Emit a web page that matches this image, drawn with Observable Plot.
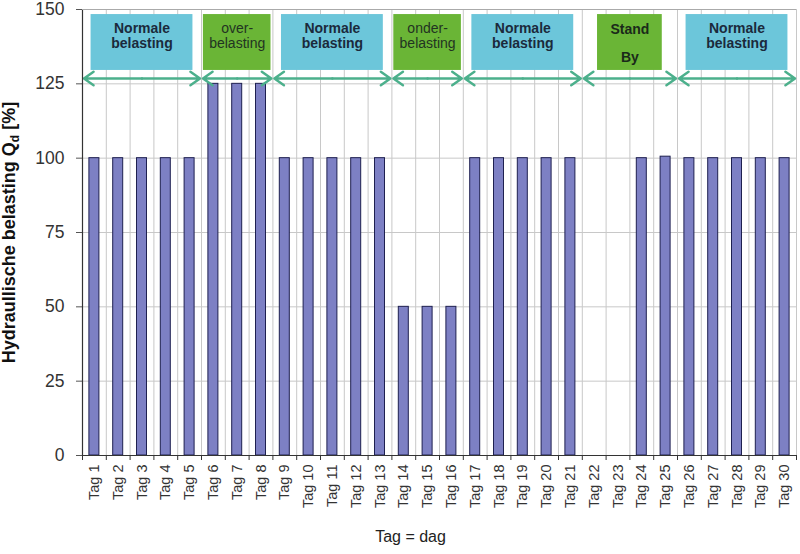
<!DOCTYPE html>
<html><head><meta charset="utf-8">
<script src="https://cdn.jsdelivr.net/npm/d3@7"></script>
<script src="https://cdn.jsdelivr.net/npm/@observablehq/plot@0.6"></script>
<style>body{margin:0;background:#fff;font-family:"Liberation Sans",Arial,sans-serif;}</style>
</head><body><div id="chart"></div>
<script>
// ---- data ----
const days = d3.range(1, 31);
const tickLabels = days.map(d => "Tag " + d);
const values = [100,100,100,100,100,125,125,125,100,100,100,100,100,50,50,50,100,100,100,100,100,null,null,100,100.5,100,100,100,100,100];
const yTicks = [0,25,50,75,100,125,150];
const segmentStart = [1,6,9,14,17,22,26];
const segmentEnd   = [5,8,13,16,21,25,30];
const segmentLabel = ["Normale\nbelasting","over-\nbelasting","Normale\nbelasting","onder-\nbelasting","Normale\nbelasting","Stand\nBy","Normale\nbelasting"];
const segmentKind  = ["normal","over","normal","under","normal","standby","normal"];
const yLabel = "Hydraullische belasting Qd [%]";
const xLabel = "Tag = dag";

// ---- derived tables ----
const bars = days.map((d, i) => ({day: d, value: values[i]})).filter(d => d.value != null);
const segs = segmentStart.map((s, i) => ({start: s, end: segmentEnd[i], label: segmentLabel[i], kind: segmentKind[i], mid: (s + segmentEnd[i]) / 2}));
const boundaries = d3.range(0.5, 31, 1);

const boxHalf = k => k === "normal" ? 2.14 : (k === "standby" ? 1.36 : 1.42);
const boxFill = k => k === "normal" ? "#6cc6da" : "#6ab536";
const font = '"Liberation Sans", Arial, sans-serif';

const plot = Plot.plot({
  width: 800, height: 554,
  marginLeft: 82, marginRight: 4, marginTop: 9, marginBottom: 99,
  style: {fontFamily: font, background: "#fff", overflow: "visible"},
  x: {type: "linear", domain: [0.5, 30.5]},
  y: {domain: [0, 150]},
  marks: [
    Plot.ruleY(yTicks.slice(1), {stroke: "#c8c8c8", strokeWidth: 1}),
    Plot.ruleX(boundaries, {stroke: "#c8c8c8", strokeWidth: 1}),
    Plot.rectY(bars, {x1: d => d.day - 0.21, x2: d => d.day + 0.21, y1: 0, y2: "value", fill: "#7d80c4", stroke: "#1e2050", strokeWidth: 1}),
    Plot.rect(segs, {x1: d => d.mid - boxHalf(d.kind), x2: d => d.mid + boxHalf(d.kind), y1: 129.5, y2: 148.3, fill: d => boxFill(d.kind)}),
    Plot.text(segs.filter(d => d.kind === "normal"), {x: "mid", y: 141.2, text: "label", fontSize: 14, lineHeight: 1.1, fontWeight: "bold", fill: "#1b2a3c"}),
    Plot.text(segs.filter(d => d.kind === "over" || d.kind === "under"), {x: "mid", y: 141.2, text: "label", fontSize: 14, lineHeight: 1.1, fill: "#223322"}),
    Plot.text(segs.filter(d => d.kind === "standby"), {x: "mid", y: 140, text: "label", fontSize: 14, lineHeight: 2.0, fontWeight: "bold", fill: "#1a2a1a"}),
    Plot.arrow(segs, {x1: "mid", x2: d => d.start - 0.5, y1: 126.8, y2: 126.8, stroke: "#4cb08c", strokeWidth: 2.5, headLength: 7, headAngle: 70, insetEnd: 1.5}),
    Plot.arrow(segs, {x1: "mid", x2: d => d.end + 0.5, y1: 126.8, y2: 126.8, stroke: "#4cb08c", strokeWidth: 2.5, headLength: 7, headAngle: 70, insetEnd: 1.5}),
    Plot.axisY({ticks: yTicks, tickSize: 6, tickPadding: 12, fontSize: 17.5, label: null, color: "#333", stroke: "#555"}),
    Plot.axisX(days, {tickFormat: d => tickLabels[d - 1], tickSize: 0, tickPadding: 9, tickRotate: -90, fontSize: 14.5, label: null, color: "#333"}),
    Plot.axisX(boundaries, {tickFormat: () => "", tickSize: 5, label: null, stroke: "#333"}),
    Plot.ruleY([0], {stroke: "#333", strokeWidth: 1.2}),
    Plot.ruleX([0.5], {stroke: "#333", strokeWidth: 1.2}),
    Plot.ruleY([150], {stroke: "#aaa", strokeWidth: 1}),
    Plot.text([yLabel], {frameAnchor: "left", dx: -73, rotate: -90, textAnchor: "middle", lineAnchor: "middle", fontSize: 18, fontWeight: "bold", fill: "#111"}),
    Plot.text([xLabel], {frameAnchor: "bottom", dx: -29, dy: 86, fontSize: 16, fill: "#222"})
  ]
});

// subscript d in Q_d
d3.select(plot).selectAll("text").filter(function() { return this.textContent === yLabel; }).each(function() {
  const t = d3.select(this);
  t.text("");
  t.append("tspan").text("Hydraullische belasting Q");
  t.append("tspan").attr("font-size", 12).attr("dy", 4).text("d");
  t.append("tspan").attr("dy", -4).text(" [%]");
});
document.getElementById("chart").append(plot);
</script>
</body></html>
